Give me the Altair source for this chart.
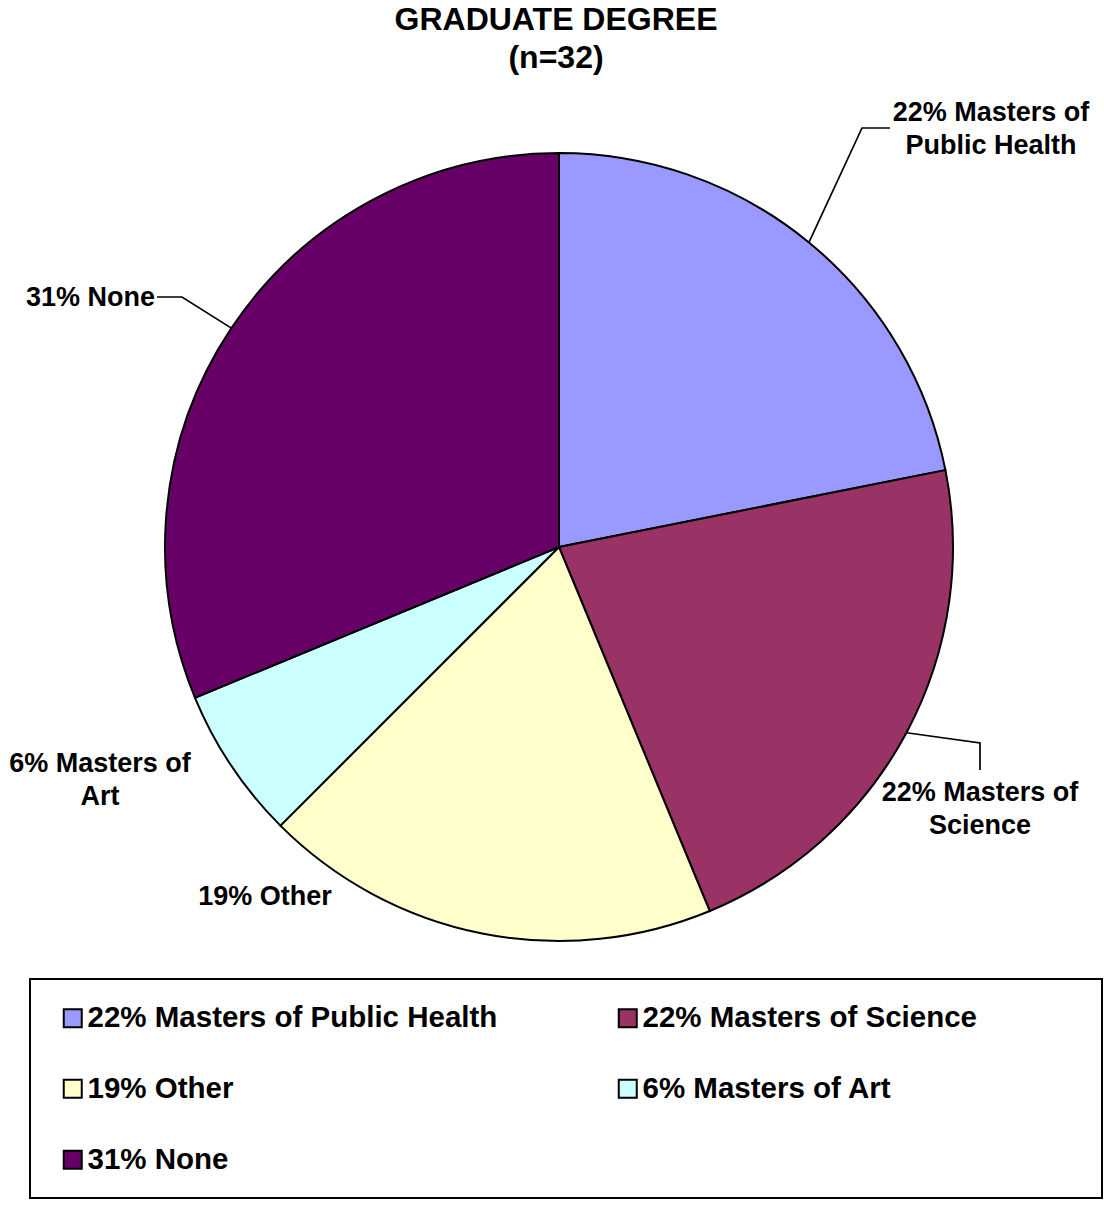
import textwrap
import altair as alt
import numpy as np
import pandas as pd

# ---------------- data ----------------
categories = ["Masters of Public Health", "Masters of Science", "Other", "Masters of Art", "None"]
counts = [7, 7, 6, 2, 10]
colors = ["#9999FF", "#993366", "#FFFFCC", "#CCFFFF", "#660066"]
title_lines = ["GRADUATE DEGREE", "(n=32)"]

n = sum(counts)
pcts = [round(c / n * 100) for c in counts]
legend_labels = [f"{p}% {c}" for p, c in zip(pcts, categories)]

# ---------------- layout (styles / positions) ----------------
W, H = 1104, 1205
TOP = 80
CX, CY = 559, 547 - TOP
R = 394
FONT = "Liberation Sans"
# label anchor (page coords, centre of first line) and alignment per slice
label_anchor = [(991, 113, "center"), (980, 793, "center"), (265, 897, "center"),
                (100, 764, "center"), (155, 298, "right")]
# leader line elbow/end points (page coords), empty = no leader
leader_pts = [[(862, 128), (890, 128)], [(980, 743), (980, 770)], [], [], [(182, 297), (157, 297)]]

# ---------------- build tables ----------------
pie = pd.DataFrame({"cat": legend_labels, "count": counts, "idx": range(len(counts))})

cum = np.cumsum([0] + counts[:-1])
mid = (cum + np.array(counts) / 2) / n * 2 * np.pi

lab_rows = []
for i, lab in enumerate(legend_labels):
    x, y, al = label_anchor[i]
    lab_rows.append({"text": "\n".join(textwrap.wrap(lab, 14)), "x": x, "y": y - TOP, "align": al})
labels = pd.DataFrame(lab_rows)

lead_rows = []
for i, pts in enumerate(leader_pts):
    if not pts:
        continue
    ex, ey = CX + R * np.sin(mid[i]), CY - R * np.cos(mid[i])
    lead_rows.append({"slice": i, "step": 0, "x": ex, "y": ey})
    for k, (px, py) in enumerate(pts):
        lead_rows.append({"slice": i, "step": k + 1, "x": px, "y": py - TOP})
leaders = pd.DataFrame(lead_rows)

# ---------------- chart ----------------
arcs = alt.Chart(pie).mark_arc(radius=R, stroke="black", strokeWidth=2).encode(
    theta=alt.Theta("count:Q", stack=True),
    order=alt.Order("idx:O"),
    x=alt.value(CX),
    y=alt.value(CY),
    color=alt.Color(
        "cat:N",
        scale=alt.Scale(domain=legend_labels, range=colors),
        sort=legend_labels,
        legend=alt.Legend(
            orient="none", legendX=58, legendY=923, direction="horizontal", columns=2,
            title=None, symbolType="square", symbolSize=324, symbolStrokeColor="black",
            symbolStrokeWidth=2, labelFont=FONT, labelFontSize=29.5, labelFontWeight="bold",
            labelColor="black", labelOffset=0, columnPadding=115, rowPadding=40,
            labelLimit=1000, padding=0,
        ),
    ),
)

lines = alt.Chart(leaders).mark_line(color="black", strokeWidth=1.7).encode(
    x=alt.X("x:Q", scale=None, axis=None),
    y=alt.Y("y:Q", scale=None, axis=None),
    detail="slice:N",
    order="step:O",
)

def text_layer(al):
    return alt.Chart(labels).transform_filter(alt.datum.align == al).mark_text(
        font=FONT, fontWeight="bold", fontSize=27, lineBreak="\n", lineHeight=33,
        baseline="middle", align=al, color="black",
    ).encode(
        x=alt.X("x:Q", scale=None, axis=None),
        y=alt.Y("y:Q", scale=None, axis=None),
        text="text:N",
    )

box = alt.Chart(pie).mark_rect(fill="white", stroke="black", strokeWidth=2).encode(
    x=alt.value(30), x2=alt.value(1102), y=alt.value(979 - TOP), y2=alt.value(1198 - TOP)
)

chart = alt.layer(box, arcs, lines, text_layer("center"), text_layer("right")).properties(
    width=W, height=H - TOP,
    padding={"top": TOP, "left": 0, "right": 0, "bottom": 0},
    autosize="none",
    background="white",
    title=alt.TitleParams(
        text=title_lines, font=FONT, fontSize=32, fontWeight="bold", color="black",
        anchor="middle", offset=5, lineHeight=38, dx=4,
    ),
).configure_view(stroke=None)

chart.save("out.html", embed_options={"renderer": "svg", "actions": False})
